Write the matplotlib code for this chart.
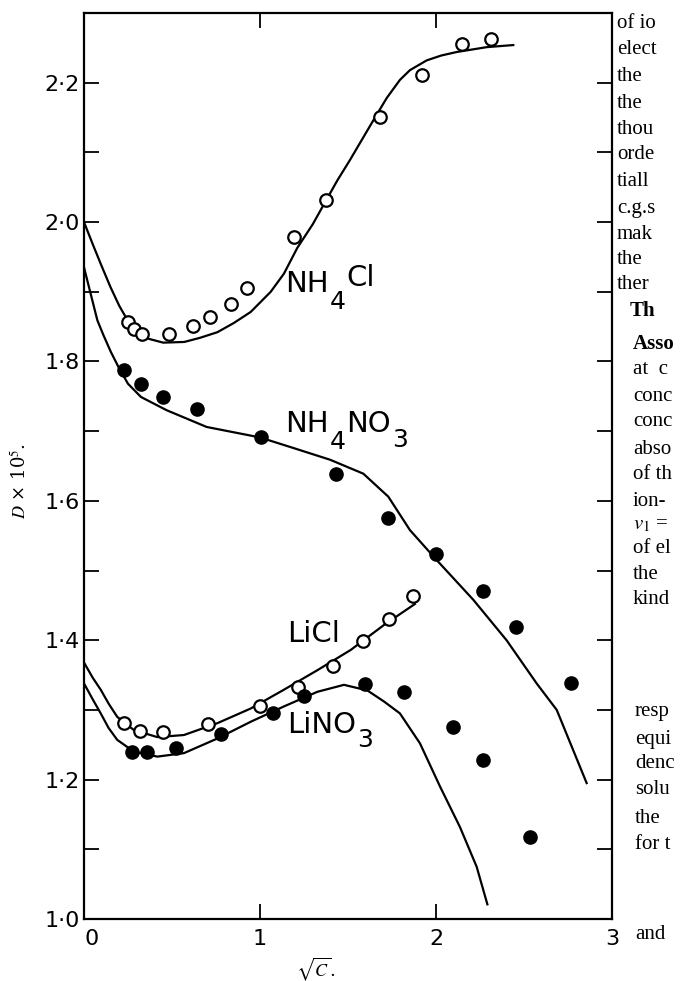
import matplotlib
matplotlib.use('Agg')
import matplotlib.pyplot as plt
from matplotlib.ticker import FixedLocator, FixedFormatter

plt.rcParams['font.family'] = ['DejaVu Sans']
plt.rcParams['mathtext.fontset'] = 'stix'

# ---------------- data ----------------
# NH4Cl: open circles + curve
nh4cl_pts_x = [0.252, 0.284, 0.331, 0.483, 0.621, 0.716, 0.833, 0.928, 1.193, 1.373, 1.682, 1.922, 2.149, 2.311]
nh4cl_pts_y = [1.857, 1.847, 1.840, 1.839, 1.851, 1.864, 1.882, 1.906, 1.978, 2.032, 2.151, 2.211, 2.255, 2.263]
nh4cl_cx = [0, 0.05, 0.10, 0.15, 0.20, 0.25, 0.30, 0.36, 0.45, 0.57, 0.66, 0.758, 0.85, 0.947, 1.061,
            1.136, 1.212, 1.30, 1.373, 1.44, 1.511, 1.644, 1.72, 1.795, 1.852, 1.947, 2.03, 2.117, 2.288, 2.439]
nh4cl_cy = [2.0, 1.968, 1.937, 1.907, 1.880, 1.858, 1.843, 1.833, 1.827, 1.828, 1.834, 1.842, 1.855, 1.871, 1.900,
            1.926, 1.963, 1.997, 2.030, 2.060, 2.089, 2.146, 2.178, 2.204, 2.218, 2.232, 2.239, 2.244, 2.251, 2.254]

# NH4NO3: filled circles + curve
nh4no3_pts_x = [0.227, 0.322, 0.449, 0.644, 1.004, 1.430, 1.729, 2.0, 2.269, 2.455, 2.767]
nh4no3_pts_y = [1.788, 1.768, 1.749, 1.732, 1.692, 1.638, 1.576, 1.524, 1.470, 1.419, 1.338]
nh4no3_cx = [0, 0.04, 0.076, 0.11, 0.152, 0.20, 0.25, 0.324, 0.47, 0.697, 1.0, 1.2, 1.398, 1.587,
             1.729, 1.852, 2.004, 2.212, 2.401, 2.572, 2.686, 2.856]
nh4no3_cy = [1.935, 1.895, 1.859, 1.838, 1.814, 1.790, 1.768, 1.749, 1.730, 1.706, 1.691, 1.675, 1.659, 1.639,
             1.606, 1.558, 1.515, 1.458, 1.400, 1.338, 1.300, 1.195]

# LiCl: open circles + curve
licl_pts_x = [0.227, 0.318, 0.449, 0.706, 0.998, 1.218, 1.417, 1.587, 1.735, 1.871]
licl_pts_y = [1.281, 1.270, 1.268, 1.280, 1.305, 1.333, 1.363, 1.399, 1.431, 1.464]
licl_cx = [0, 0.05, 0.095, 0.14, 0.189, 0.284, 0.417, 0.568, 0.758, 0.947, 1.136, 1.326, 1.515, 1.705, 1.88]
licl_cy = [1.368, 1.346, 1.329, 1.309, 1.290, 1.271, 1.261, 1.264, 1.281, 1.302, 1.329, 1.357, 1.386, 1.422, 1.452]

# LiNO3: filled circles + curve
lino3_pts_x = [0.275, 0.356, 0.521, 0.777, 1.076, 1.25, 1.597, 1.82, 2.094, 2.269, 2.534]
lino3_pts_y = [1.240, 1.240, 1.245, 1.266, 1.295, 1.320, 1.337, 1.326, 1.276, 1.228, 1.117]
lino3_cx = [0, 0.05, 0.095, 0.14, 0.189, 0.284, 0.417, 0.568, 0.758, 0.947, 1.136, 1.326, 1.477,
            1.61, 1.705, 1.795, 1.909, 2.023, 2.136, 2.231, 2.292]
lino3_cy = [1.338, 1.315, 1.295, 1.274, 1.257, 1.240, 1.233, 1.238, 1.259, 1.283, 1.305, 1.326, 1.336,
            1.328, 1.312, 1.295, 1.252, 1.190, 1.132, 1.075, 1.021]

y_major = [1.0, 1.2, 1.4, 1.6, 1.8, 2.0, 2.2]
y_major_labels = ['1·0', '1·2', '1·4', '1·6', '1·8', '2·0', '2·2']
y_minor = [1.1, 1.3, 1.5, 1.7, 1.9, 2.1]
x_major = [0, 1, 2, 3]
x_major_labels = ['0', '1', '2', '3']

page_text = [  # (text, x px, y px centre, bold)
    ('of io', 617, 22, False), ('elect', 617, 48, False), ('the', 617, 75, False),
    ('the', 617, 102, False), ('thou', 617, 128, False), ('orde', 617, 153, False),
    ('tiall', 617, 180, False), ('c.g.s', 617, 207, False), ('mak', 617, 233, False),
    ('the', 617, 258, False), ('ther', 617, 283, False), ('Th', 630, 310, True),
    ('Asso', 633, 343, True), ('at  c', 633, 368, False), ('conc', 633, 395, False),
    ('conc', 633, 420, False), ('abso', 633, 448, False), ('of th', 633, 473, False),
    ('ion-', 633, 500, False), ('$v_1$ =', 633, 523, False), ('of el', 633, 547, False),
    ('the', 633, 573, False), ('kind', 633, 598, False),
    ('resp', 635, 710, False), ('equi', 635, 738, False), ('denc', 635, 762, False),
    ('solu', 635, 788, False), ('the', 635, 817, False), ('for t', 635, 843, False),
    ('and', 635, 933, False),
]

# ---------------- figure ----------------
W, H = 680, 981
fig = plt.figure(figsize=(W / 100, H / 100), dpi=100)
ax = fig.add_axes([84 / W, 1 - 919 / H, (612 - 84) / W, (919 - 13) / H])
ax.set_xlim(0, 3)
ax.set_ylim(1.0, 2.3)

lw = 1.6
ax.plot(nh4cl_cx, nh4cl_cy, color='black', lw=lw, zorder=2)
ax.plot(nh4no3_cx, nh4no3_cy, color='black', lw=lw, zorder=2)
ax.plot(licl_cx, licl_cy, color='black', lw=lw, zorder=2)
ax.plot(lino3_cx, lino3_cy, color='black', lw=lw, zorder=2)

open_kw = dict(ls='none', marker='o', ms=9, mfc='white', mec='black', mew=1.6, zorder=3)
fill_kw = dict(ls='none', marker='o', ms=9.5, mfc='black', mec='black', mew=1.0, zorder=3)
ax.plot(nh4cl_pts_x, nh4cl_pts_y, **open_kw)
ax.plot(licl_pts_x, licl_pts_y, **open_kw)
ax.plot(nh4no3_pts_x, nh4no3_pts_y, **fill_kw)
ax.plot(lino3_pts_x, lino3_pts_y, **fill_kw)

for s in ax.spines.values():
    s.set_linewidth(1.6)

ax.yaxis.set_major_locator(FixedLocator(y_major))
ax.yaxis.set_major_formatter(FixedFormatter(y_major_labels))
ax.yaxis.set_minor_locator(FixedLocator(y_minor))
ax.xaxis.set_major_locator(FixedLocator(x_major))
ax.xaxis.set_major_formatter(FixedFormatter(x_major_labels))
ax.tick_params(axis='both', which='both', direction='in', length=11, width=1.3,
               top=True, right=True, labelsize=16)
ax.tick_params(axis='y', pad=3)
ax.tick_params(axis='x', pad=7)
for lab in ax.get_xticklabels():
    if lab.get_text() == '0':
        lab.set_horizontalalignment('left')

# curve labels (pixel-based positioning converted to data units)
def px2data(px, py):
    return (px - 84) / 176.0, 1.0 + (919 - py) / 697.0

def label(txt, px, py, fs):
    x, y = px2data(px, py)
    ax.text(x, y, txt, fontsize=fs, ha='left', va='baseline', zorder=4)

label('NH', 285, 292, 21)
label('4', 330, 309, 18)
label('Cl', 346, 286, 21)
label('NH', 285, 432, 21)
label('4', 330, 449, 18)
label('NO', 346, 432, 21)
label('3', 392, 447, 18)
label('LiCl', 287, 642, 21)
label('LiNO', 287, 733, 21)
label('3', 357, 747, 18)

# axis labels
fig.text(20 / W, 1 - 481 / H, r'$D$ × 10$^5$.', rotation=90, ha='center', va='center',
         fontsize=13, family='DejaVu Serif')
fig.text(316 / W, 1 - 976 / H, r'$\sqrt{C}$.', ha='center', va='baseline', fontsize=13,
         family='DejaVu Serif')

# surrounding page text (cut off by the page edge)
for t, px, py, bold in page_text:
    fig.text(px / W, 1 - (py + 6) / H, t, ha='left', va='baseline', fontsize=15,
             family='Liberation Serif', fontweight='bold' if bold else 'normal')

fig.savefig('out.png', dpi=100)
